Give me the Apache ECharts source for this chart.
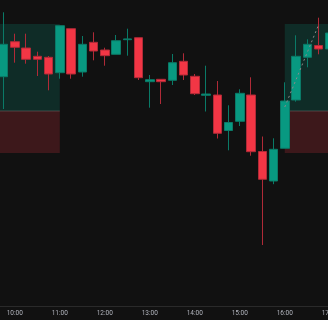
<!DOCTYPE html>
<html>
<head>
<meta charset="utf-8">
<script src="https://cdn.jsdelivr.net/npm/echarts@6/dist/echarts.min.js"></script>
<style>
html,body{margin:0;padding:0;background:#111111;}
#chart{width:328px;height:320px;}
</style>
</head>
<body>
<div id="chart"></div>
<script>
// 15-minute candles
const times = ['09:45','10:00','10:15','10:30','10:45','11:00','11:15','11:30','11:45','12:00','12:15','12:30','12:45','13:00','13:15','13:30','13:45','14:00','14:15','14:30','14:45','15:00','15:15','15:30','15:45','16:00','16:15','16:30','16:45','17:00'];
const opens  = [122.93,126.43,125.80,124.97,124.87,123.33,127.73,123.40,126.37,125.60,125.17,126.63,126.83,122.43,122.67,122.57,124.47,122.97,121.07,121.10,117.55,118.47,121.10,115.45,112.50,115.77,120.60,124.87,126.05,125.70];
const closes = [126.17,125.87,124.67,124.67,123.20,128.03,123.20,126.17,125.50,125.03,126.53,126.71,122.83,122.63,122.43,124.33,123.10,121.23,121.20,117.27,118.35,121.27,115.43,112.67,115.67,120.50,124.97,126.17,125.70,127.30];
const lows   = [119.70,124.33,124.23,123.00,121.57,122.73,122.73,122.93,124.57,124.03,125.17,125.03,122.60,119.83,120.20,122.10,122.60,121.10,119.45,116.75,115.57,118.00,115.03,106.10,112.18,115.77,120.43,123.87,125.17,125.60];
const highs  = [129.37,127.23,127.23,125.43,125.00,128.03,127.73,127.00,127.37,125.83,127.10,127.73,126.83,123.10,122.67,125.20,125.27,123.20,124.03,122.50,120.07,121.67,122.87,116.95,116.77,122.37,127.07,126.67,128.83,127.80];

// position tool zones
const pos1Start = null, pos1End = '11:00';
const pos2Start = '16:00', pos2End = null;
const targetPrice = 128.2;
const entryPrice = 119.5;
const stopPrice = 115.3;
// dotted progress line of the second position
const dot2From = ['16:00', 119.9];
const dot2To = ['16:45', 128.1];

const candleData = times.map((t, i) => [opens[i], closes[i], lows[i], highs[i]]);

function zone(start, end, top, bottom, color) {
  const a = { yAxis: top, itemStyle: { color: color } };
  const b = { yAxis: bottom };
  if (start !== null) a.xAxis = start;
  if (end !== null) b.xAxis = end;
  return [a, b];
}

const chart = echarts.init(document.getElementById('chart'), null, { renderer: 'canvas' });
chart.setOption({
  backgroundColor: '#111111',
  animation: false,
  grid: { left: -2.1, right: -7.4, top: 0, bottom: 14, outerBoundsMode: 'none', containLabel: false },
  xAxis: {
    type: 'category',
    data: times,
    boundaryGap: true,
    axisLine: { show: true, lineStyle: { color: '#2a2a2a', width: 1 } },
    axisTick: { show: false },
    splitLine: { show: false },
    axisLabel: {
      interval: (i) => i % 4 === 1,
      color: '#b2b5be',
      fontSize: 6.5,
      fontFamily: 'Roboto, sans-serif',
      margin: 4,
      hideOverlap: false
    }
  },
  yAxis: {
    type: 'value',
    min: 100,
    max: 130.6,
    show: false,
    splitLine: { show: false }
  },
  series: [{
    type: 'candlestick',
    data: candleData,
    barWidth: 9,
    clip: false,
    itemStyle: {
      color: '#089981',
      color0: '#F23645',
      borderColor: '#0a7a67',
      borderColor0: '#b02a37',
      borderWidth: 1
    },
    markArea: {
      silent: true,
      data: [
        zone(pos1Start, pos1End, targetPrice, entryPrice, 'rgba(8,153,129,0.2)'),
        zone(pos1Start, pos1End, entryPrice, stopPrice, 'rgba(242,54,69,0.2)'),
        zone(pos2Start, pos2End, targetPrice, entryPrice, 'rgba(8,153,129,0.2)'),
        zone(pos2Start, pos2End, entryPrice, stopPrice, 'rgba(242,54,69,0.2)'),
        zone(pos1Start, pos1End, entryPrice + 0.06, entryPrice - 0.04, 'rgba(120,120,120,0.45)'),
        zone(pos2Start, pos2End, entryPrice + 0.06, entryPrice - 0.04, 'rgba(120,120,120,0.45)')
      ]
    },
    markLine: {
      silent: true,
      symbol: ['none', 'none'],
      label: { show: false },
      lineStyle: { color: '#8a8a8a', type: [2, 3], width: 1 },
      data: [
        [{ xAxis: dot2From[0], yAxis: dot2From[1] }, { xAxis: dot2To[0], yAxis: dot2To[1] }]
      ]
    }
  }]
});
</script>
</body>
</html>
